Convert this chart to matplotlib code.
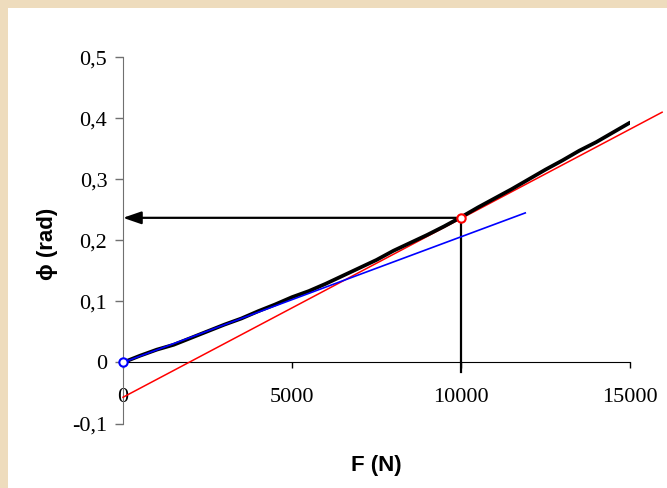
import matplotlib
matplotlib.use("Agg")
import matplotlib.pyplot as plt
from matplotlib.patches import Rectangle

# measured curve: rotation angle vs force
force = [0, 500, 1000, 1500, 2000, 2500, 3000, 3500, 4000, 4500, 5000, 5500,
         6000, 6500, 7000, 7500, 8000, 8500, 9000, 9500, 10000, 10500, 11000,
         11500, 12000, 12500, 13000, 13500, 14000, 14500, 15000]
phi = [0.0, 0.011, 0.021, 0.029, 0.040, 0.051, 0.062, 0.072, 0.084, 0.095,
       0.107, 0.117, 0.129, 0.142, 0.155, 0.168, 0.183, 0.196, 0.209, 0.223,
       0.238, 0.254, 0.269, 0.284, 0.300, 0.316, 0.331, 0.347, 0.361, 0.377,
       0.393]

# initial tangent (blue) and secant through the 10000 N point (red)
blue_x = [0, 11900]
blue_y = [0.0, 0.245]
red_x = [0, 15950]
red_y = [-0.057, 0.410]
point_f = 10000
point_phi = 0.237

xticks = [0, 5000, 10000, 15000]
xtick_labels = ["0", "5000", "10000", "15000"]
yticks = [-0.1, 0.0, 0.1, 0.2, 0.3, 0.4, 0.5]
ytick_labels = ["-0,1", "0", "0,1", "0,2", "0,3", "0,4", "0,5"]

fig = plt.figure(figsize=(6.67, 4.88), dpi=100)
fig.patch.set_facecolor("#EEDCBD")
fig.patches.append(Rectangle((8 / 667, 0), 1, 1 - 8 / 488, transform=fig.transFigure,
                             facecolor="white", edgecolor="none", zorder=-5))

ax = fig.add_axes([123 / 667, 1 - 423.5 / 488, 507 / 667, 366.2 / 488])
ax.set_facecolor("none")
ax.set_xlim(0, 15000)
ax.set_ylim(-0.1, 0.5)

for s in ["top", "right"]:
    ax.spines[s].set_visible(False)
ax.spines["bottom"].set_position(("data", 0))
ax.spines["left"].set_color("#707070")
ax.spines["bottom"].set_color("black")

serif = "Liberation Serif"
ax.set_xticks(xticks)
ax.set_xticklabels(xtick_labels, family=serif, fontsize=16)
ax.set_yticks(yticks)
ax.set_yticklabels(ytick_labels, family=serif, fontsize=16)
ax.tick_params(axis="x", direction="out", length=4.5, width=1, color="black", pad=14)
ax.tick_params(axis="y", direction="out", length=5.8, width=1, color="#707070", pad=5.5)

ax.plot(red_x, red_y, color="red", lw=1.1, clip_on=False, zorder=3)
ax.plot(force, phi, color="black", lw=2.7, solid_capstyle="round", zorder=4)
ax.plot(blue_x, blue_y, color="blue", lw=1.2, zorder=5)
ax.plot([0], [0], "o", ms=6, mfc="white", mec="blue", mew=1.5, clip_on=False, zorder=6)
ax.plot([point_f], [point_phi], "o", ms=6, mfc="white", mec="red", mew=1.5, zorder=6)

# reading lines
ax.plot([point_f, point_f], [point_phi, -0.015], color="black", lw=1.6, zorder=2)
ax.annotate("", xy=(0, point_phi), xytext=(point_f, point_phi),
            arrowprops=dict(arrowstyle="-|>,head_length=1.1,head_width=0.38",
                            color="black", lw=1.6, shrinkA=0, shrinkB=0), zorder=2)

fig.text(376 / 667, 1 - 466 / 488, "F (N)", family="Liberation Sans",
         fontweight="bold", fontsize=16, ha="center", va="center")
fig.text(47 / 667, 1 - 244 / 488, "ϕ (rad)", family=["Liberation Sans", "DejaVu Sans"],
         fontweight="bold", fontsize=16, ha="center", va="center", rotation=90)

fig.savefig("out.png", dpi=100)
